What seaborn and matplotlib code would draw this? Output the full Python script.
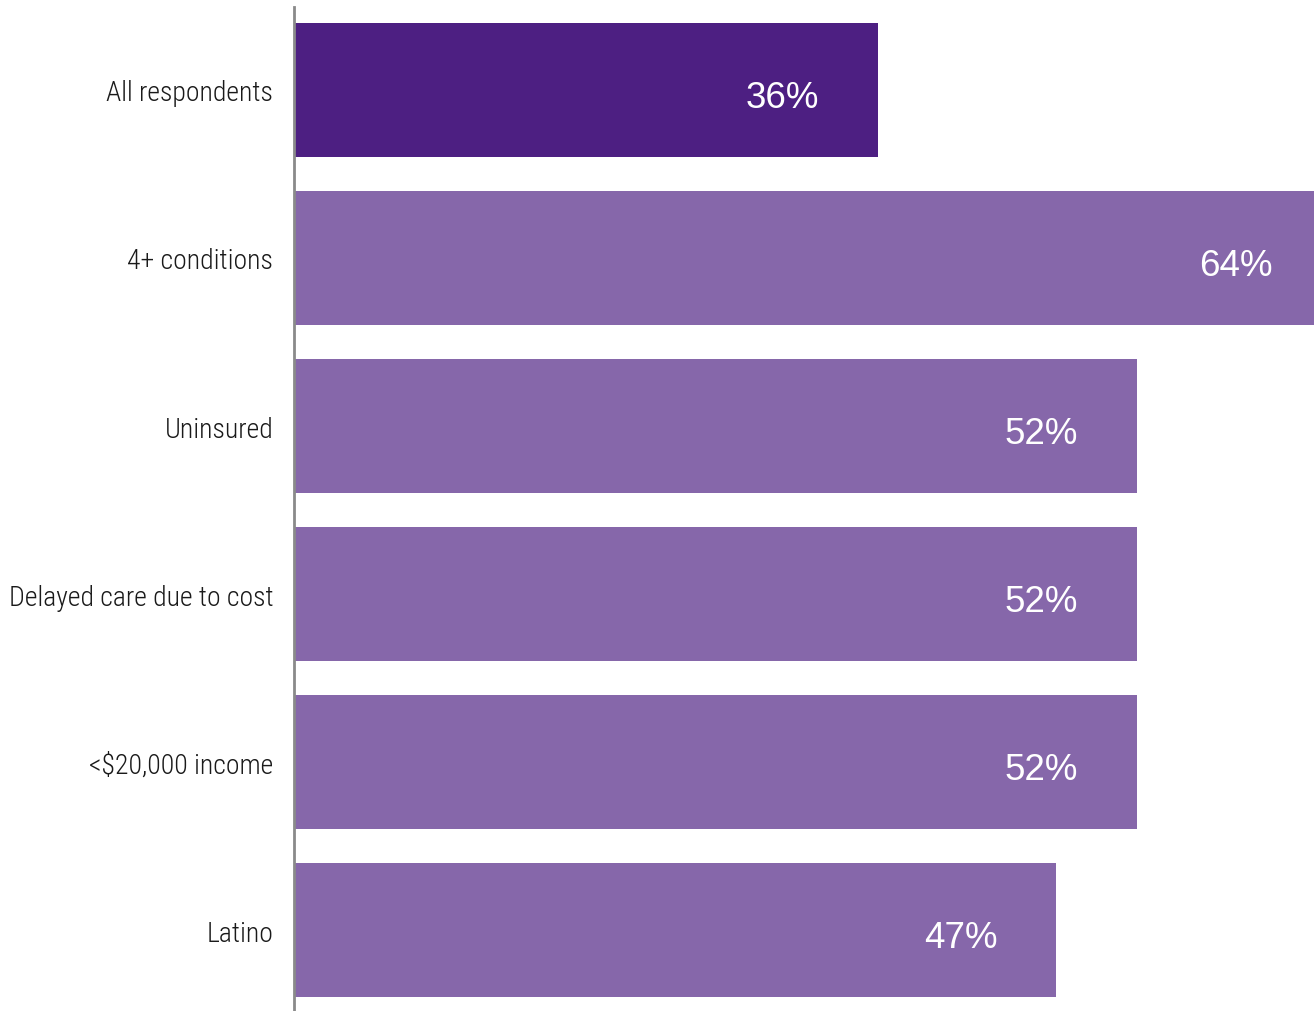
import matplotlib
matplotlib.use("Agg")
import matplotlib.pyplot as plt
from matplotlib import font_manager
from matplotlib.transforms import offset_copy
import seaborn as sns
import pandas as pd

categories = ["All respondents", "4+ conditions", "Uninsured",
              "Delayed care due to cost", "<$20,000 income", "Latino"]
values = [36, 64, 52, 52, 52, 47]
bar_colors = ["#4D1F82", "#8667AA", "#8667AA", "#8667AA", "#8667AA", "#8667AA"]

sns.set_theme(style="white")

installed = {f.name for f in font_manager.fontManager.ttflist}
label_font = next((n for n in ["Roboto Condensed", "Archivo Narrow",
                               "Sofia Sans Condensed", "Roboto"] if n in installed), "DejaVu Sans")
plt.rcParams["font.family"] = ["Liberation Sans", "DejaVu Sans"]

df = pd.DataFrame({"group": categories, "pct": values})

fig = plt.figure(figsize=(13.14, 10.12), dpi=100)
ax = fig.add_axes([294 / 1314, 0.0, 1 - 294 / 1314, 1 - 8 / 1012])

sns.barplot(data=df, x="pct", y="group", hue="group", palette=bar_colors,
            order=categories, hue_order=categories, legend=False,
            width=0.8, saturation=1, linewidth=0, ax=ax)

ax.set_xlim(0, 62.9)
ax.set_ylim(5.482, -0.494)

ax.set_xlabel("")
ax.set_ylabel("")
ax.set_xticks([])
ax.tick_params(axis="y", length=0, pad=15)
for lbl in ax.get_yticklabels():
    lbl.set_fontfamily([label_font, "DejaVu Sans"])
    lbl.set_fontweight("light")
    lbl.set_fontsize(20)
    lbl.set_color("#1a1a1a")

for side in ["top", "right", "bottom"]:
    ax.spines[side].set_visible(False)
ax.spines["left"].set_color("#8a8a8a")
ax.spines["left"].set_linewidth(2)
ax.spines["left"].set_zorder(5)

# value labels placed just inside the end of each bar
px_per_unit = (1314 - 294) / 62.9
inset = 59 / px_per_unit
shift = offset_copy(ax.transData, fig=fig, x=0, y=-12, units="points")
for i, v in enumerate(values):
    ax.text(v - inset, i, f"{v}%", ha="right", va="baseline",
            color="white", fontsize=26.5, clip_on=False, transform=shift)

fig.savefig("out.png", dpi=100)
